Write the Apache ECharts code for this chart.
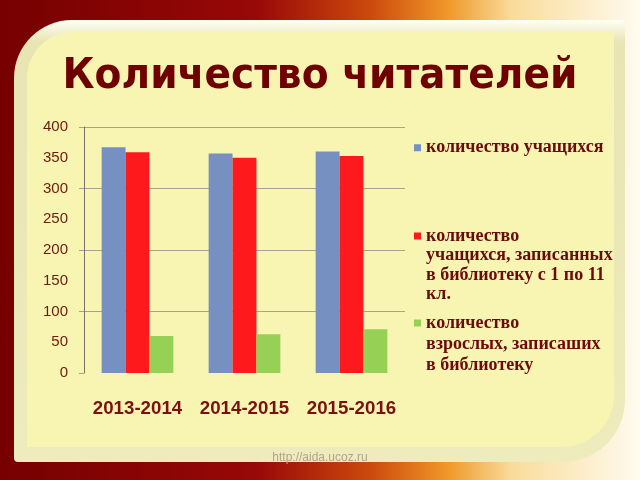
<!DOCTYPE html>
<html><head><meta charset="utf-8">
<script src="https://cdn.jsdelivr.net/npm/echarts@6/dist/echarts.min.js"></script>
<style>html,body{margin:0;padding:0;background:#fff}#c{width:640px;height:480px}</style>
</head><body><div id="c"></div>
<script>
const titleText = 'Количество читателей';
const categories = ['2013-2014', '2014-2015', '2015-2016'];
const seriesNames = [
  'количество учащихся',
  'количество\nучащихся, записанных\nв библиотеку с 1 по 11\nкл.',
  'количество\nвзрослых, записаших\nв библиотеку'
];
const students = [367, 357, 360];
const studentsInLibrary = [359, 350, 353];
const adultsInLibrary = [60, 63, 71];
const yMin = 0, yMax = 400, yLabelStep = 50, yGridStep = 100;
const watermark = 'http://aida.ucoz.ru';

const colors = ['#7691c1', '#fe1a1c', '#96d156'];
const gridColor = '#a8a28c';
const legendText = { fontFamily: 'Liberation Serif', fontWeight: 'bold', fontSize: 18, color: '#6b0a0a' };

function splitColors() {
  const arr = [];
  for (let v = yMin; v <= yMax; v += yLabelStep) {
    arr.push(v !== yMin && v % yGridStep === 0 ? gridColor : 'rgba(0,0,0,0)');
  }
  return arr;
}
// pad a multi-line legend label with leading blank lines so the marker sits on the first line
function topAligned(name) {
  const n = name.split('\n').length;
  return '\n'.repeat(n - 1) + name;
}

const chart = echarts.init(document.getElementById('c'), null, { renderer: 'canvas' });
const option = {
  animation: false,
  color: colors,
  graphic: [
    { type: 'rect', z: -10, shape: { x: 0, y: 0, width: 640, height: 480 },
      style: { fill: new echarts.graphic.LinearGradient(0, 0, 1, 0, [
        { offset: 0, color: '#760000' }, { offset: 0.4, color: '#980808' },
        { offset: 0.58, color: '#cc4a0c' }, { offset: 0.7, color: '#f0982a' },
        { offset: 0.8, color: '#f9dc9a' }, { offset: 1, color: '#fffbef' }]) } },
    { type: 'rect', z: -9, shape: { x: 14, y: 20, width: 611, height: 442, r: [58, 4, 62, 4] },
      style: { fill: new echarts.graphic.LinearGradient(0, 0, 0, 1, [
        { offset: 0, color: '#fffff4' }, { offset: 0.05, color: '#e8e4b4' },
        { offset: 1, color: '#eeebbc' }]) } },
    { type: 'rect', z: -8, shape: { x: 27, y: 32, width: 587, height: 415, r: [46, 0, 52, 0] },
      style: { fill: '#f8f5b2' } },
    { type: 'text', z: 5, style: { text: watermark, x: 320, y: 458, align: 'center', verticalAlign: 'middle',
      fontFamily: 'Liberation Sans', fontSize: 12, fill: '#aca58e' } }
  ],
  title: {
    text: titleText, left: 'center', top: 55, padding: 0,
    textStyle: { fontFamily: '"DejaVu Sans Condensed", "DejaVu Sans"', fontWeight: 'bold', fontSize: 43.5, color: '#6e0000' }
  },
  legend: [
    { data: [seriesNames[0]], left: 414, top: 138, padding: 0, icon: 'rect', itemWidth: 7, itemHeight: 7,
      textStyle: Object.assign({ lineHeight: 19.5 }, legendText) },
    { data: [seriesNames[1]], left: 414, top: 167.75, padding: 0, icon: 'rect', itemWidth: 7, itemHeight: 7,
      formatter: topAligned, textStyle: Object.assign({ lineHeight: 19.5 }, legendText) },
    { data: [seriesNames[2]], left: 414, top: 270.5, padding: 0, icon: 'rect', itemWidth: 7, itemHeight: 7,
      formatter: topAligned, textStyle: Object.assign({ lineHeight: 21 }, legendText) }
  ],
  grid: { left: 84, right: 235, top: 127, bottom: 107, containLabel: false },
  xAxis: {
    type: 'category', data: categories,
    axisLine: { show: false }, axisTick: { show: false }, splitLine: { show: false },
    axisLabel: { interval: 0, margin: 26, color: '#7a1010', fontFamily: 'Liberation Sans', fontWeight: 'bold', fontSize: 18.7 }
  },
  yAxis: [
    { type: 'value', min: yMin, max: yMax, interval: yLabelStep, position: 'left',
      axisLine: { show: true, lineStyle: { color: '#787260', width: 1 } },
      axisTick: { show: false },
      splitLine: { show: true, lineStyle: { color: splitColors(), width: 1 } },
      axisLabel: { margin: 16, color: '#6b1a0c', fontFamily: 'Liberation Sans', fontSize: 15 } },
    { type: 'value', min: yMin, max: yMax, interval: yGridStep, position: 'right', offset: -321,
      axisLine: { show: false }, splitLine: { show: false }, axisLabel: { show: false },
      axisTick: { show: true, inside: true, length: 5, lineStyle: { color: gridColor } } }
  ],
  series: [
    { name: seriesNames[0], type: 'bar', data: students, barGap: '0%', barCategoryGap: '33%' },
    { name: seriesNames[1], type: 'bar', data: studentsInLibrary, barGap: '0%', barCategoryGap: '33%' },
    { name: seriesNames[2], type: 'bar', data: adultsInLibrary, barGap: '0%', barCategoryGap: '33%' }
  ]
};
chart.setOption(option);
</script></body></html>
